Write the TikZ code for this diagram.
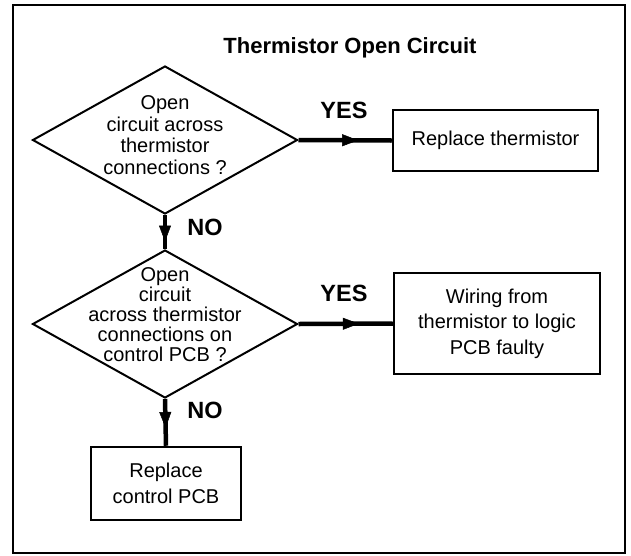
\documentclass[tikz,border=0pt]{standalone}
\usepackage{fontspec}
\setmainfont{Liberation Sans}
\usetikzlibrary{shapes.geometric,arrows.meta,decorations.markings}
\begin{document}
\begin{tikzpicture}[x=1pt,y=-1pt,
  frame/.style={draw, line width=2pt},
  decision/.style={diamond, draw, line width=2pt, inner sep=0pt, minimum width=265pt, minimum height=148pt},
  dtext/.style={align=center, inner sep=0pt, font=\fontsize{20}{21.5}\selectfont},
  procbox/.style={draw, line width=2.5pt, align=center, inner sep=0pt, font=\fontsize{20}{25.5}\selectfont},
  lbl/.style={font=\bfseries\fontsize{23.5}{24}\selectfont, inner sep=0pt},
  flow/.style={line width=4.5pt, postaction={decorate},
    decoration={markings, mark=at position #1 with {\arrow[line width=0.5pt]{Triangle[length=16pt,width=12pt]}}}}
]
\useasboundingbox (0,0) rectangle (631,555);
\draw[frame] (13,5) rectangle (625,553);
\node[font=\bfseries\fontsize{22}{24}\selectfont, inner sep=0pt] (title) at (350,48) {Thermistor Open Circuit};

\node[decision] (d1) at (165,140) {};
\node[dtext] (t1) at (165,135) {Open\\circuit across\\thermistor\\connections ?};
\node[procbox, minimum width=205pt, minimum height=61pt] (b1) at (495.5,140.5) {Replace thermistor};

\node[decision] (d2) at (165,324) {};
\node[dtext, font=\fontsize{20}{20}\selectfont] (t2) at (165,315) {Open\\circuit\\across thermistor\\connections on\\control PCB ?};
\node[procbox, minimum width=206pt, minimum height=101pt] (b2) at (497,323.5) {Wiring from\\thermistor to logic\\PCB faulty};

\node[procbox, minimum width=150pt, minimum height=73pt] (b3) at (166,483.5) {Replace\\control PCB};

\draw[flow=0.64] (d1.east) -- (b1.west);
\draw[flow=0.64] (d2.east) -- (b2.west);
\draw[flow=0.78] (d1.south) -- (d2.north);
\draw[flow=0.62] (d2.south) -- (b3.north);

\node[lbl] (yes1) at (344,110) {YES};
\node[lbl] (yes2) at (344,293) {YES};
\node[lbl] (no1) at (205,227) {NO};
\node[lbl] (no2) at (205,410) {NO};
\end{tikzpicture}
\end{document}
